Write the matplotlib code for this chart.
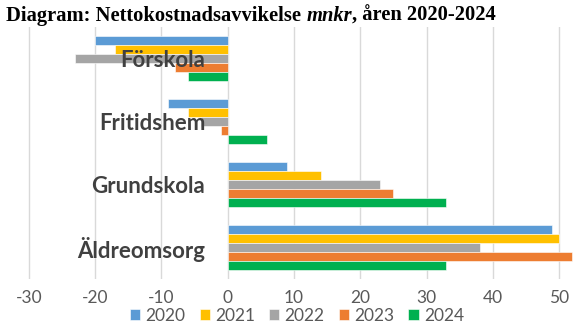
import matplotlib.pyplot as plt
import numpy as np

categories = ["Förskola", "Fritidshem", "Grundskola", "Äldreomsorg"]
years = ["2020", "2021", "2022", "2023", "2024"]
values = {
    "2020": [-20, -9, 9, 49],
    "2021": [-17, -6, 14, 50],
    "2022": [-23, -4, 23, 38],
    "2023": [-8, -1, 25, 52],
    "2024": [-6, 6, 33, 33],
}
colors = ["#5B9BD5", "#FFC000", "#A5A5A5", "#ED7D31", "#00B050"]
xticks = [-30, -20, -10, 0, 10, 20, 30, 40, 50]

W, H = 587, 328
fig = plt.figure(figsize=(W / 100, H / 100), dpi=100)
x0, x1 = -33, 53
left_px, right_px = 9.1, 578.9
ax = fig.add_axes([left_px / W, 1 - 279 / H, (right_px - left_px) / W, (279 - 27) / H])

y = np.arange(len(categories))
bh = 0.143
for k, yr in enumerate(years):
    ax.barh(y - 2 * bh + k * bh, values[yr], height=bh, color=colors[k],
            edgecolor="white", linewidth=0.4, label=yr, zorder=2)

ax.set_xlim(x0, x1)
ax.set_ylim(3.5, -0.5)
ax.set_xticks(xticks)
ax.set_xticklabels([str(t) for t in xticks], fontsize=12.5, color="#595959",
                   family="Lato")
ax.tick_params(axis="x", length=0, pad=8)
ax.set_yticks([])
ax.grid(axis="x", color="#D9D9D9", linewidth=1, zorder=0)
for s in ax.spines.values():
    s.set_visible(False)

for i, c in enumerate(categories):
    ax.text(-3.4, i + 0.03, c, ha="right", va="center", fontsize=16, fontweight="bold",
            color="#404040", family="Lato", zorder=5)

fig.legend(loc="center", bbox_to_anchor=(297 / W, 1 - 316 / H), ncol=5, frameon=False,
           handlelength=0.6, handleheight=0.6, handletextpad=0.3, columnspacing=0.8,
           prop={"family": "Lato", "size": 12.5}, labelcolor="#595959")

# title in pieces (bold, bold italic, bold)
fig.canvas.draw()
r = fig.canvas.get_renderer()
xpos = 6 / W
ty = 1 - 16 / H
for txt, style in [("Diagram: Nettokostnadsavvikelse ", "normal"), ("mnkr", "italic"),
                   (", åren 2020-2024", "normal")]:
    t = fig.text(xpos, ty, txt, family="Liberation Serif", fontweight="bold",
                 style=style, fontsize=14.8, va="center", ha="left")
    bb = t.get_window_extent(renderer=r)
    xpos = bb.x1 / W

plt.savefig("out.png", dpi=100)
